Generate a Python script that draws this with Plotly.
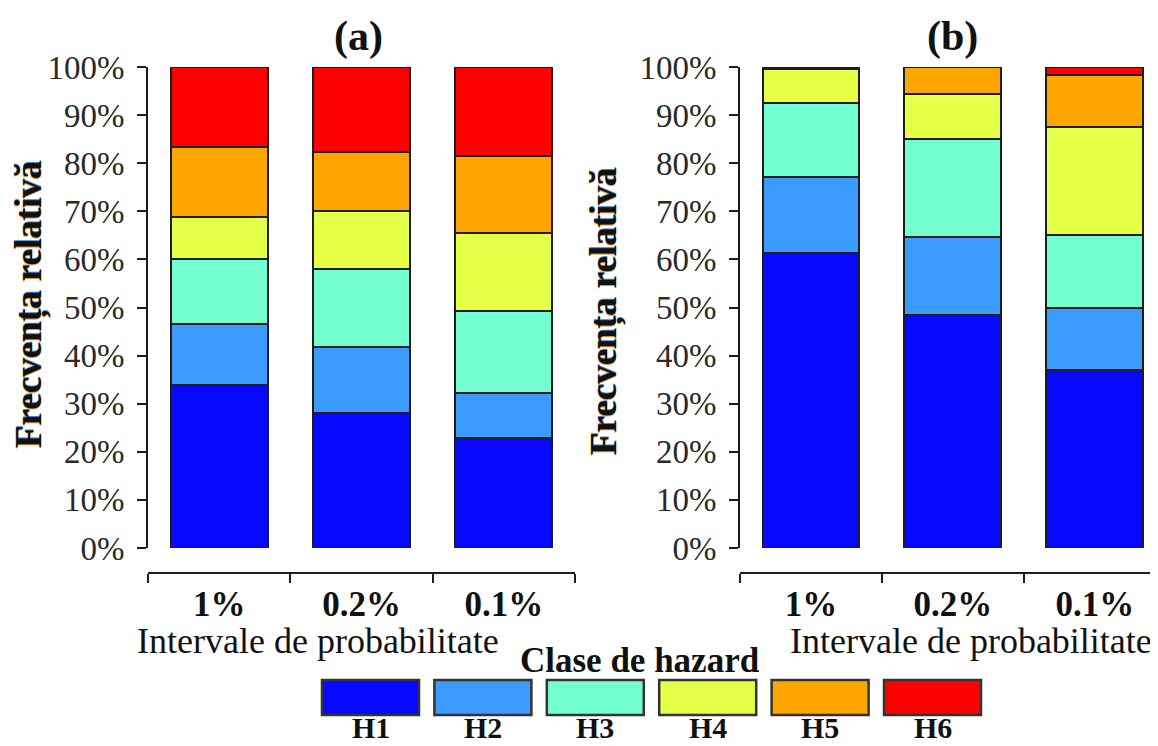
import plotly.graph_objects as go

# ---------------- data ----------------
categories = ["1%", "0.2%", "0.1%"]
classes = ["H1", "H2", "H3", "H4", "H5", "H6"]
colors = ["#0808ff", "#3c9bff", "#74ffd2", "#e6ff47", "#ffa500", "#ff0000"]

# panel (a) – relative frequency (%) per hazard class
a_h1 = [33.8, 28.1, 22.9]
a_h2 = [12.7, 13.6, 9.3]
a_h3 = [13.5, 16.3, 17.0]
a_h4 = [8.9, 12.1, 16.3]
a_h5 = [14.5, 12.2, 16.0]
a_h6 = [16.6, 17.7, 18.5]

# panel (b)
b_h1 = [61.4, 48.4, 37.1]
b_h2 = [15.7, 16.3, 12.8]
b_h3 = [15.5, 20.4, 15.1]
b_h4 = [6.9, 9.3, 22.5]
b_h5 = [0.3, 5.6, 10.9]
b_h6 = [0.2, 0.0, 1.6]

y_ticks = list(range(0, 101, 10))

# ---------------- figure ----------------
W, H = 1158, 746
OFF = 8  # page body margin offset
FONT = "Liberation Serif, Times New Roman, serif"
LINE = "#1e1e1e"

fig = go.Figure()

panel_a = [a_h1, a_h2, a_h3, a_h4, a_h5, a_h6]
panel_b = [b_h1, b_h2, b_h3, b_h4, b_h5, b_h6]

for name, col, vals in zip(classes, colors, panel_a):
    fig.add_trace(go.Bar(x=categories, y=vals, name=name, xaxis="x", yaxis="y",
                         marker=dict(color=col, line=dict(color=LINE, width=2)),
                         showlegend=False))
for name, col, vals in zip(classes, colors, panel_b):
    fig.add_trace(go.Bar(x=categories, y=vals, name=name, xaxis="x2", yaxis="y2",
                         marker=dict(color=col, line=dict(color=LINE, width=2)),
                         showlegend=False))

def px_y(y):
    return 1 - (y - OFF) / H

def px_x(x):
    return (x - OFF) / W

ydom = [px_y(548), px_y(67)]
xpos = px_y(573)

yaxis_common = dict(
    range=[0, 100], domain=ydom, tickvals=y_ticks,
    ticktext=[f"{v}%" for v in y_ticks],
    showline=True, linecolor=LINE, linewidth=2,
    ticks="outside", ticklen=9, tickwidth=2, tickcolor=LINE,
    showgrid=False, zeroline=False, automargin=False,
    tickfont=dict(family=FONT, size=33, color="#2a2a2a"),
    ticklabelstandoff=6,
)
xaxis_common = dict(
    type="category", anchor="free", position=xpos,
    showline=True, linecolor=LINE, linewidth=2,
    ticks="outside", ticklen=9, tickwidth=2, tickcolor=LINE,
    tickson="boundaries", showgrid=False, zeroline=False, automargin=False,
    tickfont=dict(family=FONT, size=35, color="#111111", weight="bold"),
)

fig.update_layout(
    template="none",
    width=W, height=H,
    margin=dict(l=0, r=0, t=0, b=0, pad=0),
    paper_bgcolor="white", plot_bgcolor="white",
    barmode="stack", bargap=0.317,
    xaxis=dict(domain=[px_x(148), px_x(575)], range=[-0.5, 2.5], **xaxis_common),
    yaxis=dict(anchor="x", **yaxis_common),
    xaxis2=dict(domain=[px_x(740), px_x(1158)], range=[-0.5, 2.444], **xaxis_common),
    yaxis2=dict(anchor="x2", **yaxis_common),
)

ann = []
# panel titles
for txt, xc in [("(a)", 358), ("(b)", 952)]:
    ann.append(dict(text=txt, x=px_x(xc), y=px_y(36), xref="paper", yref="paper",
                    showarrow=False, xanchor="center", yanchor="middle",
                    font=dict(family=FONT, size=42, color="#111111", weight="bold")))
# y titles
for xc, yc in [(30, 305), (604, 312)]:
    ann.append(dict(text="Frecvența relativă", x=px_x(xc), y=px_y(yc),
                    xref="paper", yref="paper", showarrow=False, textangle=-90,
                    xanchor="center", yanchor="middle",
                    font=dict(family=FONT, size=37, color="#111111", weight="bold",
                              shadow="-1px 0px 0px #e0962e, 1px 0px 0px #3f86d0")))
# x titles
for xc in [318, 971]:
    ann.append(dict(text="Intervale de probabilitate", x=px_x(xc), y=px_y(641),
                    xref="paper", yref="paper", showarrow=False,
                    xanchor="center", yanchor="middle",
                    font=dict(family=FONT, size=36, color="#111111")))
# legend title
ann.append(dict(text="Clase de hazard", x=px_x(640), y=px_y(660),
                xref="paper", yref="paper", showarrow=False,
                xanchor="center", yanchor="middle",
                font=dict(family=FONT, size=35, color="#111111", weight="bold")))

# custom legend: big swatches with labels below
shapes = []
start, step, bw = 322, 112.4, 97
for i, (name, col) in enumerate(zip(classes, colors)):
    x0 = start + i * step
    shapes.append(dict(type="rect", xref="paper", yref="paper",
                       x0=px_x(x0), x1=px_x(x0 + bw), y0=px_y(715), y1=px_y(680),
                       fillcolor=col, line=dict(color="#333333", width=2.5)))
    ann.append(dict(text=name, x=px_x(x0 + bw / 2), y=px_y(727),
                    xref="paper", yref="paper", showarrow=False,
                    xanchor="center", yanchor="middle",
                    font=dict(family=FONT, size=30, color="#111111", weight="bold")))

fig.update_layout(annotations=ann, shapes=shapes)

fig.write_html("out.html")
